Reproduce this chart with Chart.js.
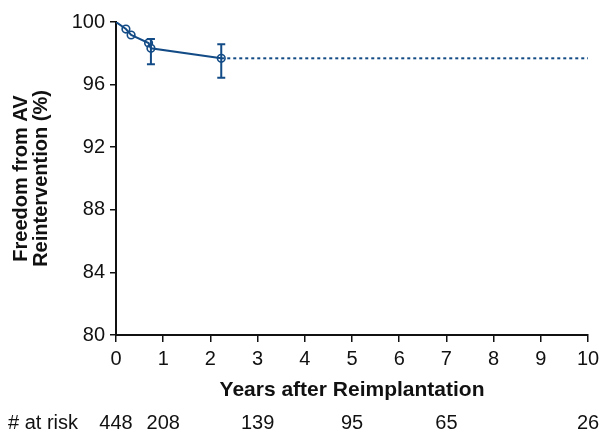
<!DOCTYPE html>
<html>
<head>
<meta charset="utf-8">
<script src="https://cdn.jsdelivr.net/npm/chart.js@4.4.0/dist/chart.umd.min.js"></script>
<style>
  html, body { margin: 0; padding: 0; background: #fff; }
  #wrap { width: 601px; height: 433px; position: relative; }
</style>
</head>
<body>
<div id="wrap"><canvas id="c"></canvas></div>
<script>
// ---- data ----
const kmYears    = [0, 0.21, 0.32, 0.69, 0.74, 2.23];
const kmFreedom  = [100, 99.55, 99.17, 98.66, 98.32, 97.68];
const ciUpper    = [null, null, null, null, 98.91, 98.58];
const ciLower    = [null, null, null, null, 97.30, 96.44];
const extYears   = [2.23, 10];
const extFreedom = [97.68, 97.68];
const riskYears  = [0, 1, 3, 5, 7, 10];
const riskCounts = [448, 208, 139, 95, 65, 26];
const xTickValues = [0,1,2,3,4,5,6,7,8,9,10];
const yTickValues = [80,84,88,92,96,100];

const BLUE = '#134b86';
const FONT = "'Liberation Sans', Arial, Helvetica, sans-serif";

const errorBars = {
  id: 'errorBars',
  afterDatasetsDraw(chart) {
    const {ctx, scales: {x, y}} = chart;
    ctx.save();
    ctx.strokeStyle = BLUE;
    ctx.lineWidth = 2;
    for (let i = 0; i < kmYears.length; i++) {
      if (ciUpper[i] == null) continue;
      const px = x.getPixelForValue(kmYears[i]);
      const pt = y.getPixelForValue(ciUpper[i]);
      const pb = y.getPixelForValue(ciLower[i]);
      ctx.beginPath();
      ctx.moveTo(px, pt); ctx.lineTo(px, pb);
      ctx.moveTo(px - 4, pt); ctx.lineTo(px + 4, pt);
      ctx.moveTo(px - 4, pb); ctx.lineTo(px + 4, pb);
      ctx.stroke();
    }
    ctx.restore();
  }
};

const atRisk = {
  id: 'atRisk',
  afterDraw(chart) {
    const {ctx, scales: {x}} = chart;
    ctx.save();
    ctx.fillStyle = '#111';
    ctx.font = '20px ' + FONT;
    ctx.textBaseline = 'middle';
    ctx.textAlign = 'left';
    ctx.fillText('# at risk', 8, 423);
    ctx.textAlign = 'center';
    riskYears.forEach((yr, i) => {
      ctx.fillText(String(riskCounts[i]), x.getPixelForValue(yr), 423);
    });
    ctx.restore();
  }
};

new Chart(document.getElementById('c'), {
  type: 'line',
  data: {
    datasets: [
      {
        data: kmYears.map((v, i) => ({x: v, y: kmFreedom[i]})),
        borderColor: BLUE,
        borderWidth: 2,
        pointRadius: kmYears.map((v, i) => i === 0 ? 0 : 3.8),
        pointBorderWidth: 1.6,
        pointBorderColor: BLUE,
        pointBackgroundColor: 'rgba(0,0,0,0)',
        fill: false,
        tension: 0
      },
      {
        data: extYears.map((v, i) => ({x: v, y: extFreedom[i]})),
        borderColor: BLUE,
        borderWidth: 2,
        borderDash: [3, 3],
        pointRadius: 0,
        fill: false
      }
    ]
  },
  options: {
    responsive: true,
    maintainAspectRatio: false,
    animation: false,
    layout: { padding: { top: 22, right: 13, left: 0, bottom: 0 } },
    plugins: { legend: { display: false }, tooltip: { enabled: false } },
    scales: {
      x: {
        type: 'linear',
        min: 0, max: 10,
        afterBuildTicks: (s) => { s.ticks = xTickValues.map(v => ({value: v})); },
        afterFit: (s) => { s.height = 98; s.paddingLeft = 0; s.paddingRight = 0; },
        border: { color: '#111', width: 2 },
        grid: { drawOnChartArea: false, color: '#111', lineWidth: 1.5, tickLength: 7 },
        ticks: { color: '#111', padding: 5, font: { family: FONT, size: 20 }, maxRotation: 0 },
        title: {
          display: true,
          text: 'Years after Reimplantation',
          color: '#111',
          font: { family: FONT, size: 21, weight: 'bold', lineHeight: 1.2 },
          padding: { top: 4, bottom: 30 }
        }
      },
      y: {
        type: 'linear',
        min: 80, max: 100,
        afterBuildTicks: (s) => { s.ticks = yTickValues.map(v => ({value: v})); },
        afterFit: (s) => { s.width = 116; s.paddingTop = 0; s.paddingBottom = 0; },
        border: { color: '#111', width: 2 },
        grid: { drawOnChartArea: false, color: '#111', lineWidth: 1.5, tickLength: 6 },
        ticks: { color: '#111', padding: 5, font: { family: FONT, size: 20 } },
        title: {
          display: true,
          text: ['Freedom from AV', 'Reintervention (%)'],
          color: '#111',
          font: { family: FONT, size: 20, weight: 'bold', lineHeight: 1.0 },
          padding: { top: 11, bottom: 0 }
        }
      }
    }
  },
  plugins: [errorBars, atRisk]
});
</script>
</body>
</html>
